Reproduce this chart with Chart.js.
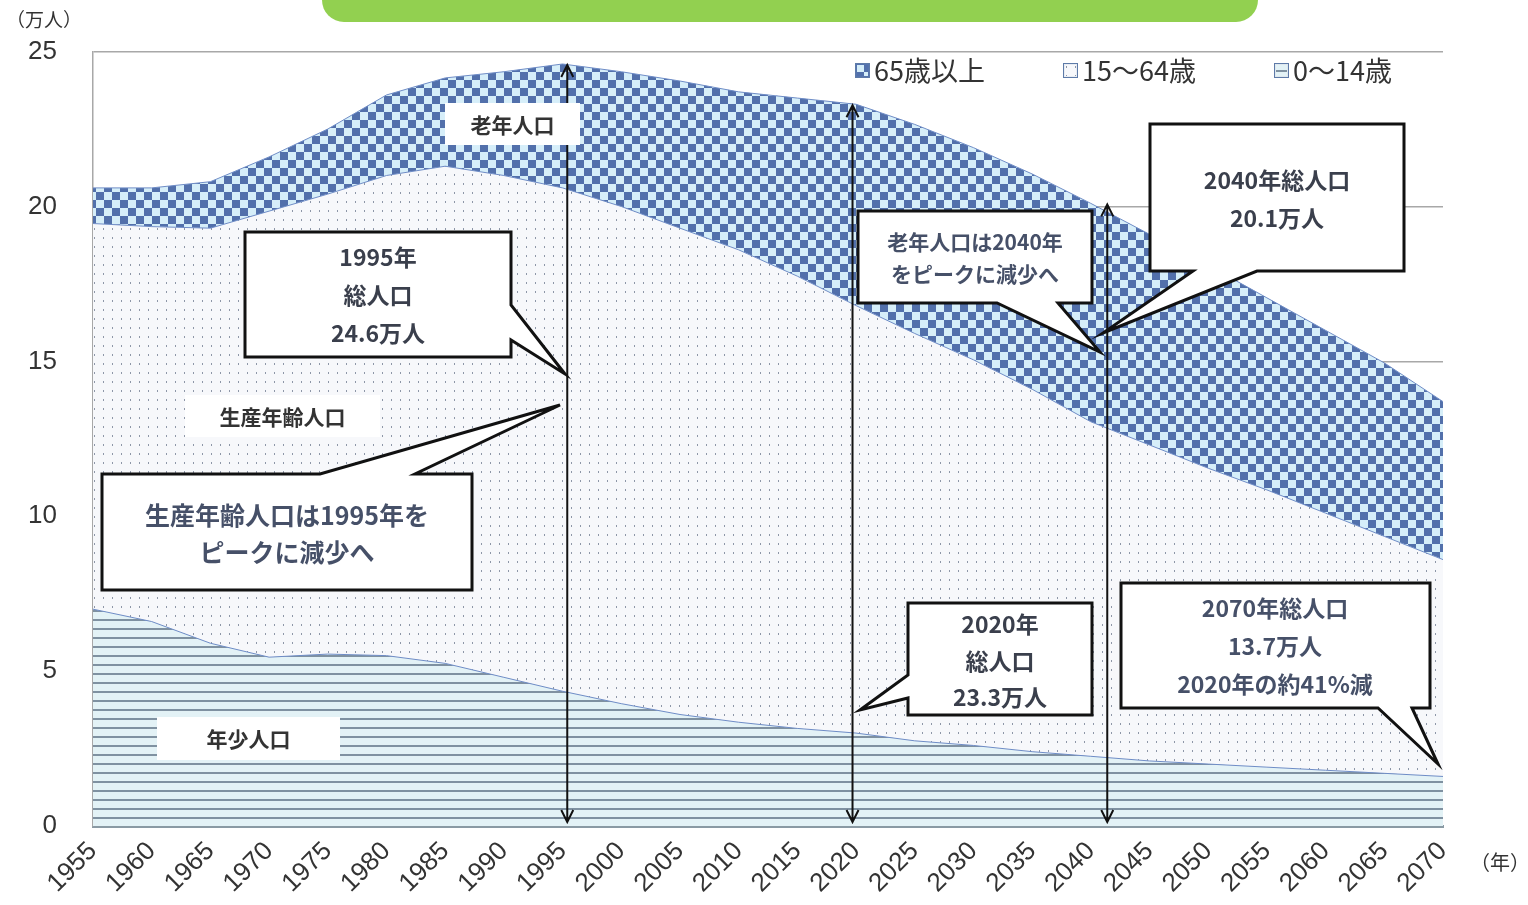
<!DOCTYPE html>
<html lang="ja">
<head>
<meta charset="utf-8">
<title>人口の推移</title>
<script src="https://cdn.jsdelivr.net/npm/chart.js@4.4.1/dist/chart.umd.min.js"></script>
<style>
  html, body { margin: 0; padding: 0; background: #fff; }
</style>
</head>
<body>
<canvas id="myChart" width="1528" height="905"></canvas>
<script>
// DATA (万人)
const years = ['1955','1960','1965','1970','1975','1980','1985','1990','1995','2000','2005','2010',
  '2015','2020','2025','2030','2035','2040','2045','2050','2055','2060','2065','2070'];
const young = [7.0, 6.6, 5.9, 5.45, 5.55, 5.5, 5.25, 4.8, 4.35, 3.95, 3.6, 3.35,
  3.15, 3.0, 2.75, 2.6, 2.4, 2.25, 2.1, 2.0, 1.9, 1.8, 1.7, 1.6];
const working = [12.45, 12.75, 13.4, 14.4, 14.85, 15.5, 16.05, 16.2, 16.25, 16.05, 15.7, 15.25,
  14.6, 13.8, 13.15, 12.45, 11.7, 10.8, 10.2, 9.55, 8.95, 8.3, 7.65, 7.0];
const elderly = [1.15, 1.25, 1.5, 1.75, 2.1, 2.6, 2.85, 3.35, 4.0, 4.35, 4.75, 5.1,
  5.75, 6.5, 6.75, 6.85, 6.95, 7.05, 6.8, 6.55, 6.2, 5.9, 5.6, 5.1];
const seriesLabels = ['0～14歳', '15～64歳', '65歳以上'];
const yTicks = [0, 5, 10, 15, 20, 25];

// arrow markers : year where arrow is drawn, year whose total gives the top
const arrowMarks = [
  { at: 1995.4, year: '1995' },
  { at: 2019.7, year: '2020' },
  { at: 2041.4, year: '2040' }
];

const JP = '"Noto Sans CJK JP", "Liberation Sans", sans-serif';
const NUM = '"Liberation Sans", "Noto Sans CJK JP", sans-serif';

//PATTERNS
function makePattern(w, h, draw) {
  var c = document.createElement('canvas');
  c.width = w; c.height = h;
  var g = c.getContext('2d');
  draw(g, w, h);
  return g.createPattern(c, 'repeat');
}
var checker = makePattern(16, 16, function (g) {
  g.fillStyle = '#d6eef9'; g.fillRect(0, 0, 16, 16);
  g.fillStyle = '#5270ab'; g.fillRect(0, 0, 8, 8); g.fillRect(8, 8, 8, 8);
});
var dots = makePattern(9, 9, function (g) {
  g.fillStyle = '#f7f8fb'; g.fillRect(0, 0, 9, 9);
  g.fillStyle = '#8e97a8'; g.fillRect(4, 3, 1, 2);
});
var stripes = makePattern(8, 9, function (g) {
  g.fillStyle = '#e3f2f6'; g.fillRect(0, 0, 8, 9);
  g.fillStyle = '#7f91a1'; g.fillRect(0, 7, 8, 2);
});
var patterns = [stripes, dots, checker];

//CALLOUT HELPERS
function calloutPath(ctx, b, t) {
  var x = b.x, y = b.y, r = b.x + b.w, btm = b.y + b.h;
  ctx.beginPath();
  ctx.moveTo(x, y);
  if (t && t.edge === 'top') { ctx.lineTo(t.a, y); ctx.lineTo(t.tx, t.ty); ctx.lineTo(t.b, y); }
  ctx.lineTo(r, y);
  if (t && t.edge === 'right') { ctx.lineTo(r, t.a); ctx.lineTo(t.tx, t.ty); ctx.lineTo(r, t.b); }
  ctx.lineTo(r, btm);
  if (t && t.edge === 'bottom') { ctx.lineTo(t.b, btm); ctx.lineTo(t.tx, t.ty); ctx.lineTo(t.a, btm); }
  ctx.lineTo(x, btm);
  if (t && t.edge === 'left') { ctx.lineTo(x, t.b); ctx.lineTo(t.tx, t.ty); ctx.lineTo(x, t.a); }
  ctx.closePath();
}

function drawCallout(ctx, c) {
  ctx.save();
  calloutPath(ctx, c.box, c.tail);
  ctx.fillStyle = '#fff';
  ctx.fill();
  ctx.lineWidth = 3;
  ctx.lineJoin = 'miter';
  ctx.strokeStyle = '#111';
  ctx.stroke();
  ctx.fillStyle = c.color || '#3a3f4c';
  ctx.font = c.font;
  ctx.textAlign = 'center';
  ctx.textBaseline = 'middle';
  c.lines.forEach(function (ln, i) {
    ctx.fillText(ln, c.cx, c.ys[i]);
  });
  ctx.restore();
}

var callouts = [
  { box: { x: 245, y: 232, w: 266, h: 125 }, tail: { edge: 'right', a: 305, b: 340, tx: 565, ty: 374 },
    lines: ['1995年', '総人口', '24.6万人'], cx: 378, ys: [257, 295, 333], font: 'bold 23px ' + JP },
  { box: { x: 102, y: 474, w: 370, h: 116 }, tail: { edge: 'top', a: 320, b: 415, tx: 560, ty: 405 },
    lines: ['生産年齢人口は1995年を', 'ピークに減少へ'], cx: 287, ys: [515, 552], font: 'bold 25px ' + JP, color: '#465068' },
  { box: { x: 908, y: 603, w: 184, h: 112 }, tail: { edge: 'left', a: 675, b: 698, tx: 860, ty: 710 },
    lines: ['2020年', '総人口', '23.3万人'], cx: 1000, ys: [624, 661, 697], font: 'bold 23px ' + JP },
  { box: { x: 858, y: 211, w: 234, h: 92 }, tail: { edge: 'bottom', a: 997, b: 1058, tx: 1100, ty: 352 },
    lines: ['老年人口は2040年', 'をピークに減少へ'], cx: 975, ys: [242, 274], font: 'bold 21px ' + JP, color: '#465068' },
  { box: { x: 1150, y: 124, w: 254, h: 147 }, tail: { edge: 'bottom', a: 1193, b: 1257, tx: 1103, ty: 333 },
    lines: ['2040年総人口', '20.1万人'], cx: 1277, ys: [180, 218], font: 'bold 23px ' + JP },
  { box: { x: 1121, y: 583, w: 309, h: 125 }, tail: { edge: 'bottom', a: 1378, b: 1412, tx: 1438, ty: 764 },
    lines: ['2070年総人口', '13.7万人', '2020年の約41%減'], cx: 1275, ys: [608, 646, 684], font: 'bold 23px ' + JP, color: '#465068' }
];

var areaTags = [
  { text: '老年人口', x: 445, y: 103, w: 135, h: 42 },
  { text: '生産年齢人口', x: 185, y: 395, w: 195, h: 42 },
  { text: '年少人口', x: 157, y: 717, w: 183, h: 43 }
];

var legendX = [855, 1063, 1274];

//PLUGIN
var overlay = {
  id: 'overlay',
  beforeDraw: function (chart) {
    var ctx = chart.ctx;
    ctx.save();
    ctx.fillStyle = '#fff';
    ctx.fillRect(0, 0, chart.width, chart.height);
    // green title bar (cut off at the top)
    ctx.fillStyle = '#92d050';
    ctx.beginPath();
    ctx.roundRect(322, -40, 936, 62, 22);
    ctx.fill();
    ctx.restore();
  },
  afterDatasetsDraw: function (chart) {
    var ctx = chart.ctx;
    var xs = chart.scales.x, ys = chart.scales.y;

    // vertical double arrows
    ctx.save();
    ctx.strokeStyle = '#111';
    ctx.lineWidth = 2;
    arrowMarks.forEach(function (m) {
      var i = years.indexOf(m.year);
      var total = young[i] + working[i] + elderly[i];
      var x = xs.getPixelForValue((m.at - 1955) / 5);
      var top = ys.getPixelForValue(total) + 1;
      var bottom = ys.getPixelForValue(0) - 4;
      ctx.beginPath();
      ctx.moveTo(x, top); ctx.lineTo(x, bottom);
      ctx.moveTo(x - 6, top + 12); ctx.lineTo(x, top); ctx.lineTo(x + 6, top + 12);
      ctx.moveTo(x - 6, bottom - 12); ctx.lineTo(x, bottom); ctx.lineTo(x + 6, bottom - 12);
      ctx.stroke();
    });
    ctx.restore();

    // white tags on the areas
    ctx.save();
    areaTags.forEach(function (t) {
      ctx.fillStyle = '#fff';
      ctx.fillRect(t.x, t.y, t.w, t.h);
      ctx.fillStyle = '#333';
      ctx.font = 'bold 21px ' + JP;
      ctx.textAlign = 'center';
      ctx.textBaseline = 'middle';
      ctx.fillText(t.text, t.x + t.w / 2, t.y + t.h / 2 + 1);
    });
    ctx.restore();

    callouts.forEach(function (c) { drawCallout(ctx, c); });

    // legend (65+ first)
    ctx.save();
    ctx.font = '27px ' + JP;
    ctx.textBaseline = 'middle';
    ctx.textAlign = 'left';
    for (var k = 0; k < 3; k++) {
      var di = 2 - k;
      var lx = legendX[k];
      ctx.fillStyle = ['#5674ae', '#e9edf3', '#dfe8ee'][k];
      ctx.fillRect(lx, 63, 15, 15);
      ctx.fillStyle = patterns[di];
      ctx.fillRect(lx + 2, 65, 11, 11);
      ctx.strokeStyle = '#5d7aa8';
      ctx.lineWidth = 1;
      ctx.strokeRect(lx + 0.5, 63.5, 14, 14);
      ctx.fillStyle = '#333';
      ctx.fillText(seriesLabels[di], lx + 19, 71);
    }
    ctx.restore();
  },
  afterDraw: function (chart) {
    var ctx = chart.ctx;
    ctx.save();
    ctx.fillStyle = '#333';
    ctx.textBaseline = 'middle';
    ctx.font = '19px ' + JP;
    ctx.fillText('（万人）', 6, 20);
    ctx.font = '20px ' + JP;
    ctx.fillText('（年）', 1470, 862);
    ctx.restore();
  }
};

//CHART
const data = {
  labels: years,
  datasets: [young, working, elderly].map(function (vals, i) {
    return {
      label: seriesLabels[i],
      data: vals,
      backgroundColor: patterns[i],
      borderColor: '#6e8cc6',
      borderWidth: 1,
      fill: i === 0 ? 'origin' : '-1',
      pointRadius: 0,
      tension: 0
    };
  })
};

const config = {
  type: 'line',
  data,
  options: {
    responsive: false,
    animation: false,
    devicePixelRatio: 1,
    layout: { padding: { top: 47, right: 85, left: 0, bottom: 0 } },
    plugins: { legend: { display: false }, tooltip: { enabled: false } },
    scales: {
      x: {
        offset: false,
        grid: { display: false, drawTicks: false },
        border: { color: '#8a9aa4', width: 3 },
        ticks: {
          autoSkip: false, maxRotation: 45, minRotation: 45, padding: 10,
          color: '#333', font: { family: NUM, size: 26 }
        },
        afterFit: function (s) { s.height = 79; }
      },
      y: {
        stacked: true,
        min: 0, max: 25,
        afterBuildTicks: function (s) { s.ticks = yTicks.map(function (v) { return { value: v }; }); },
        grid: { color: '#a8a8a8', lineWidth: 1.5, drawTicks: false },
        border: { color: '#a8a8a8', width: 1.5 },
        ticks: { padding: 36, color: '#333', font: { family: NUM, size: 26 } },
        afterFit: function (s) { s.width = 93; }
      }
    }
  },
  plugins: [overlay]
};

var chart = document.querySelector('#myChart');
var myChart = new Chart(chart, config);
</script>
</body>
</html>
